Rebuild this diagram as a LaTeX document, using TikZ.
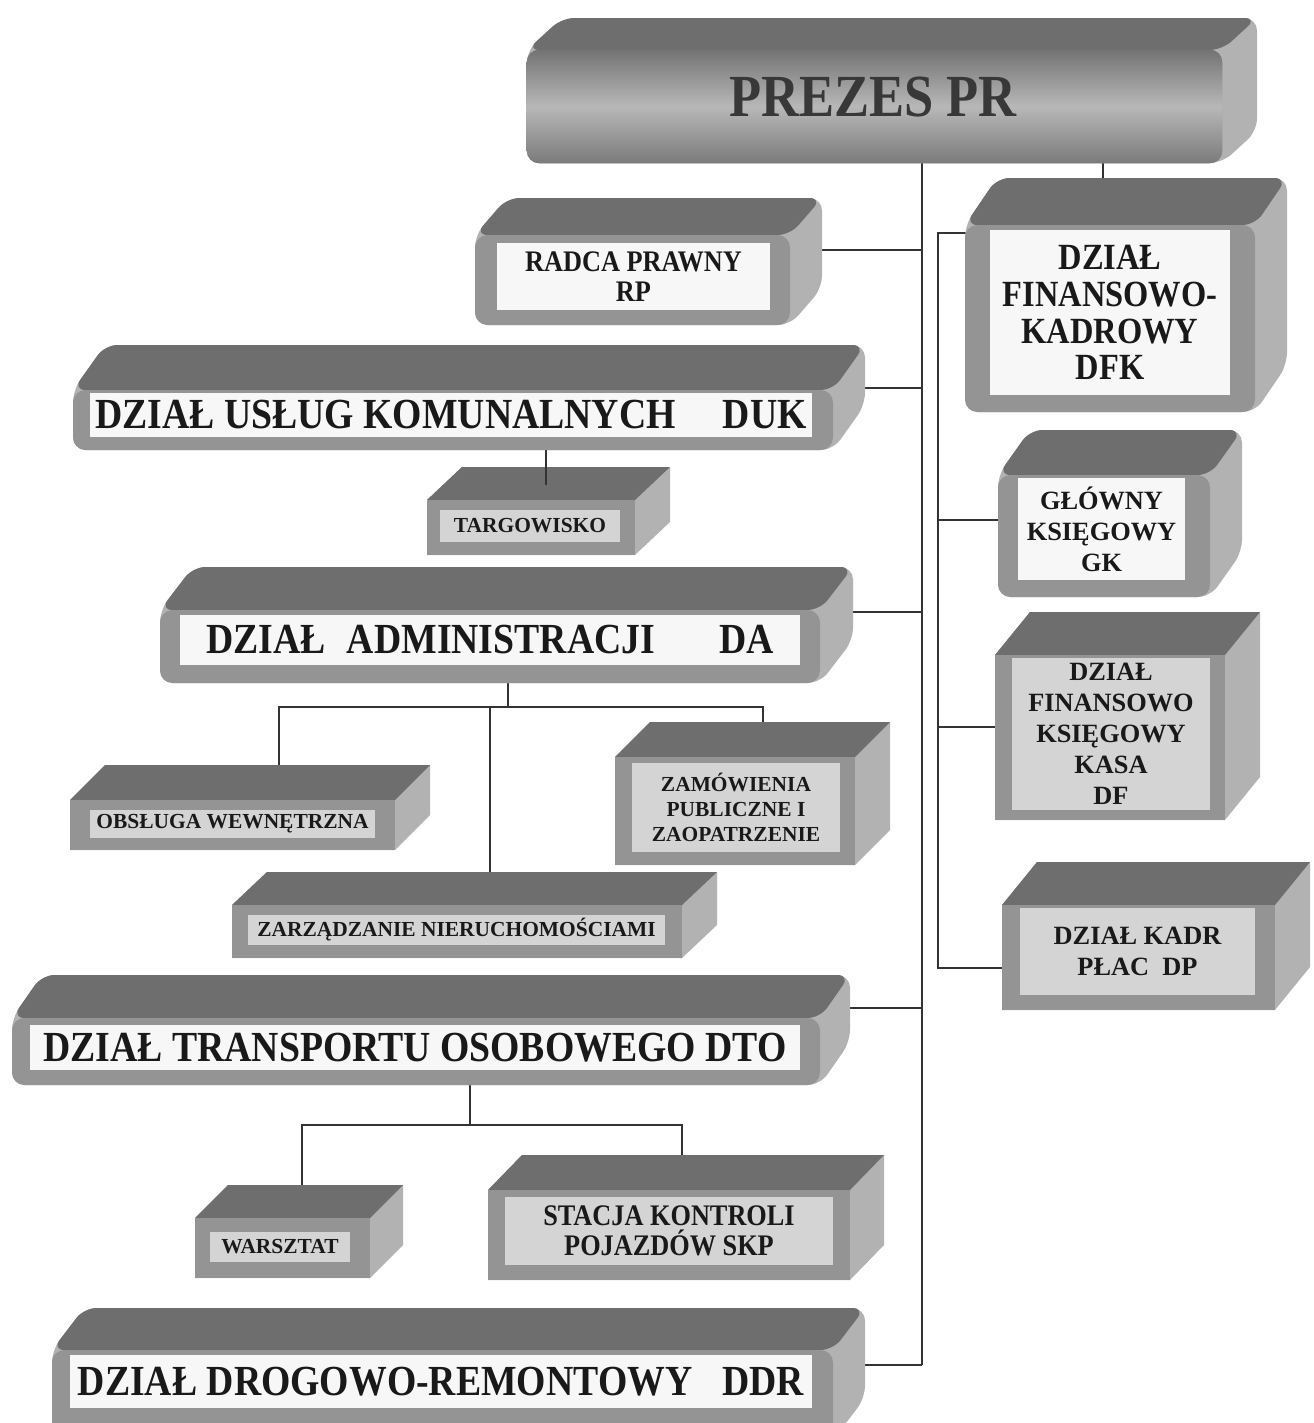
\documentclass[tikz,border=0pt]{standalone}
\usepackage{fontspec}
\setmainfont{Liberation Serif}
\newfontfamily\waski[FakeStretch=0.88]{Liberation Serif}
\usetikzlibrary{calc,fit,backgrounds}

\newcommand{\blok}[5][]{%
  \coordinate (#2-lg) at (#3);
  \coordinate (#2-pd) at (#4);
  \coordinate (#2-pg) at (#2-pd |- #2-lg);
  \coordinate (#2-ld) at (#2-lg |- #2-pd);
  \fill[bok,#1] (#2-lg) -- ++(#5) -- ($(#2-pg)+(#5)$) -- ($(#2-pd)+(#5)$) -- (#2-pd) -- (#2-ld) -- cycle;
  \fill[gora,#1] (#2-lg) -- ++(#5) -- ($(#2-pg)+(#5)$) -- (#2-pg) -- cycle;
  \node[przod,#1,fit=(#2-lg)(#2-pd)] (#2) {};
}

\begin{document}
\begin{tikzpicture}[x=0.02cm,y=-0.02cm,
  gora/.style={fill=black!57},
  bok/.style={fill=black!30},
  przod/.style={fill=black!42,inner sep=0pt},
  owal/.style={rounded corners=2.5mm},
  panel/.style={fill=black!3,inner sep=0pt},
  szary/.style={fill=black!17},
  napis/.style={align=center,inner sep=0pt,text=black!90},
  linia/.style={draw=black!80,line width=1.1pt},
  duzy/.style={font=\waski\bfseries\fontsize{24.4}{24.4}\selectfont},
  sredni/.style={font=\bfseries\fontsize{15}{17.6}\selectfont},
  maly/.style={font=\bfseries\fontsize{12.2}{14.2}\selectfont}]
\clip (0,0) rectangle (1314,1423);

\blok[owal]{prezes}{527,50}{1222,163}{35,-32}
\blok[owal]{rp}{475,235}{790,325}{32,-37}
\blok[owal]{dfk}{965,225}{1255,412}{32,-47}
\blok[owal]{duk}{73,390}{833,450}{32,-45}
\blok{targ}{427,500}{635,555}{35,-33}
\blok[owal]{da}{160,610}{820,683}{33,-43}
\blok{obs}{70,800}{395,850}{35,-35}
\blok{zam}{615,757}{855,865}{35,-35}
\blok{zarz}{232,905}{682,958}{35,-33}
\blok[owal]{dto}{12,1018}{820,1085}{30,-43}
\blok{warsztat}{195,1218}{370,1278}{33,-33}
\blok{skp}{488,1190}{850,1280}{34,-35}
\blok[owal]{ddr}{52,1350}{833,1440}{32,-42}
\blok[owal]{gk}{998,475}{1210,597}{32,-45}
\blok{df}{995,655}{1225,820}{35,-43}
\blok{dp}{1002,905}{1275,1010}{35,-43}

\shade[owal,top color=black!55,bottom color=black!52,middle color=black!28] (prezes.north west) rectangle (prezes.south east);

\node[panel,fit={(497,243)(770,310)}] (rp-p) {};
\node[panel,fit={(990,230)(1230,395)}] (dfk-p) {};
\node[panel,fit={(90,393)(812,437)}] (duk-p) {};
\node[panel,szary,fit={(440,510)(620,542)}] (targ-p) {};
\node[panel,fit={(180,615)(800,665)}] (da-p) {};
\node[panel,szary,fit={(90,810)(375,838)}] (obs-p) {};
\node[panel,szary,fit={(632,763)(840,852)}] (zam-p) {};
\node[panel,szary,fit={(248,915)(665,945)}] (zarz-p) {};
\node[panel,fit={(30,1025)(800,1070)}] (dto-p) {};
\node[panel,szary,fit={(210,1232)(350,1262)}] (warsztat-p) {};
\node[panel,szary,fit={(505,1197)(833,1265)}] (skp-p) {};
\node[panel,fit={(70,1355)(812,1408)}] (ddr-p) {};
\node[panel,fit={(1018,478)(1185,580)}] (gk-p) {};
\node[panel,szary,fit={(1012,658)(1210,810)}] (df-p) {};
\node[panel,szary,fit={(1020,908)(1255,995)}] (dp-p) {};

\node[napis,font=\waski\bfseries\fontsize{34}{34}\selectfont,text=black!78] (prezes-t) at (873,97) {PREZES PR};
\node[napis,font=\waski\bfseries\fontsize{17}{17}\selectfont] (rp-t) at (rp-p) {RADCA PRAWNY\\RP};
\node[napis,font=\waski\bfseries\fontsize{21}{21}\selectfont] (dfk-t) at (dfk-p) {DZIAŁ\\FINANSOWO-\\KADROWY\\DFK};
\node[napis,duzy] (duk-t) at (duk-p) {DZIAŁ USŁUG KOMUNALNYCH\hspace{1.1em}DUK};
\node[napis,maly] (targ-t) at (targ-p) {TARGOWISKO};
\node[napis,duzy] (da-t) at (da-p) {DZIAŁ\hspace{0.5em}ADMINISTRACJI\hspace{1.5em}DA};
\node[napis,maly] (obs-t) at (obs-p) {OBSŁUGA WEWNĘTRZNA};
\node[napis,maly] (zam-t) at (zam-p) {ZAMÓWIENIA\\PUBLICZNE I\\ZAOPATRZENIE};
\node[napis,maly] (zarz-t) at (zarz-p) {ZARZĄDZANIE NIERUCHOMOŚCIAMI};
\node[napis,duzy] (dto-t) at (dto-p) {DZIAŁ TRANSPORTU OSOBOWEGO DTO};
\node[napis,maly] (warsztat-t) at (warsztat-p) {WARSZTAT};
\node[napis,font=\waski\bfseries\fontsize{17}{17}\selectfont] (skp-t) at (skp-p) {STACJA KONTROLI\\POJAZDÓW SKP};
\node[napis,duzy] (ddr-t) at (ddr-p) {DZIAŁ DROGOWO-REMONTOWY\hspace{0.7em}DDR};
\node[napis,sredni] (gk-t) at (gk-p) {GŁÓWNY\\KSIĘGOWY\\GK};
\node[napis,sredni] (df-t) at (df-p) {DZIAŁ\\FINANSOWO\\KSIĘGOWY\\KASA\\DF};
\node[napis,sredni] (dp-t) at (dp-p) {DZIAŁ KADR\\PŁAC\hspace{0.5em}DP};

\coordinate (s-rp) at (922,250);
\coordinate (s-duk) at (922,388);
\coordinate (s-da) at (922,612);
\coordinate (s-dto) at (922,1008);
\coordinate (s-ddr) at (922,1365);
\coordinate (k-dfk) at (938,233);
\coordinate (k-gk) at (938,520);
\coordinate (k-df) at (938,727);
\coordinate (k-dp) at (938,968);
\coordinate (p-dfk) at (1103,170);
\coordinate (t-targ) at (546,485);
\coordinate (a-stem) at (508,707);
\coordinate (a-obs) at (279,707);
\coordinate (a-zam) at (763,707);
\coordinate (a-zarz) at (490,707);
\coordinate (b-stem) at (470,1125);
\coordinate (b-war) at (302,1125);
\coordinate (b-skp) at (682,1125);

\begin{scope}[on background layer]
\draw[linia] (prezes.south -| s-rp) -- (s-ddr);
\draw[linia] (s-rp) -- (s-rp -| rp.center);
\draw[linia] (s-duk) -- (s-duk -| duk.center);
\draw[linia] (s-da) -- (s-da -| da.center);
\draw[linia] (s-dto) -- (s-dto -| dto.center);
\draw[linia] (s-ddr) -- (s-ddr -| ddr.center);
\draw[linia] (prezes.center -| p-dfk) -- (dfk.center -| p-dfk);
\draw[linia] (dfk.center |- k-dfk) -- (k-dfk) -- (k-dp) -- (k-dp -| dp.center);
\draw[linia] (k-gk) -- (k-gk -| gk.center);
\draw[linia] (k-df) -- (k-df -| df.center);
\draw[linia] (da.center -| a-stem) -- (a-stem);
\draw[linia] (obs.center -| a-obs) -- (a-obs) -- (a-zam) -- (zam.center -| a-zam);
\draw[linia] (a-zarz) -- (zarz.center -| a-zarz);
\draw[linia] (dto.center -| b-stem) -- (b-stem);
\draw[linia] (warsztat.center -| b-war) -- (b-war) -- (b-skp) -- (skp.center -| b-skp);
\end{scope}
\draw[linia] (duk.south -| t-targ) -- (t-targ);
\end{tikzpicture}
\end{document}
